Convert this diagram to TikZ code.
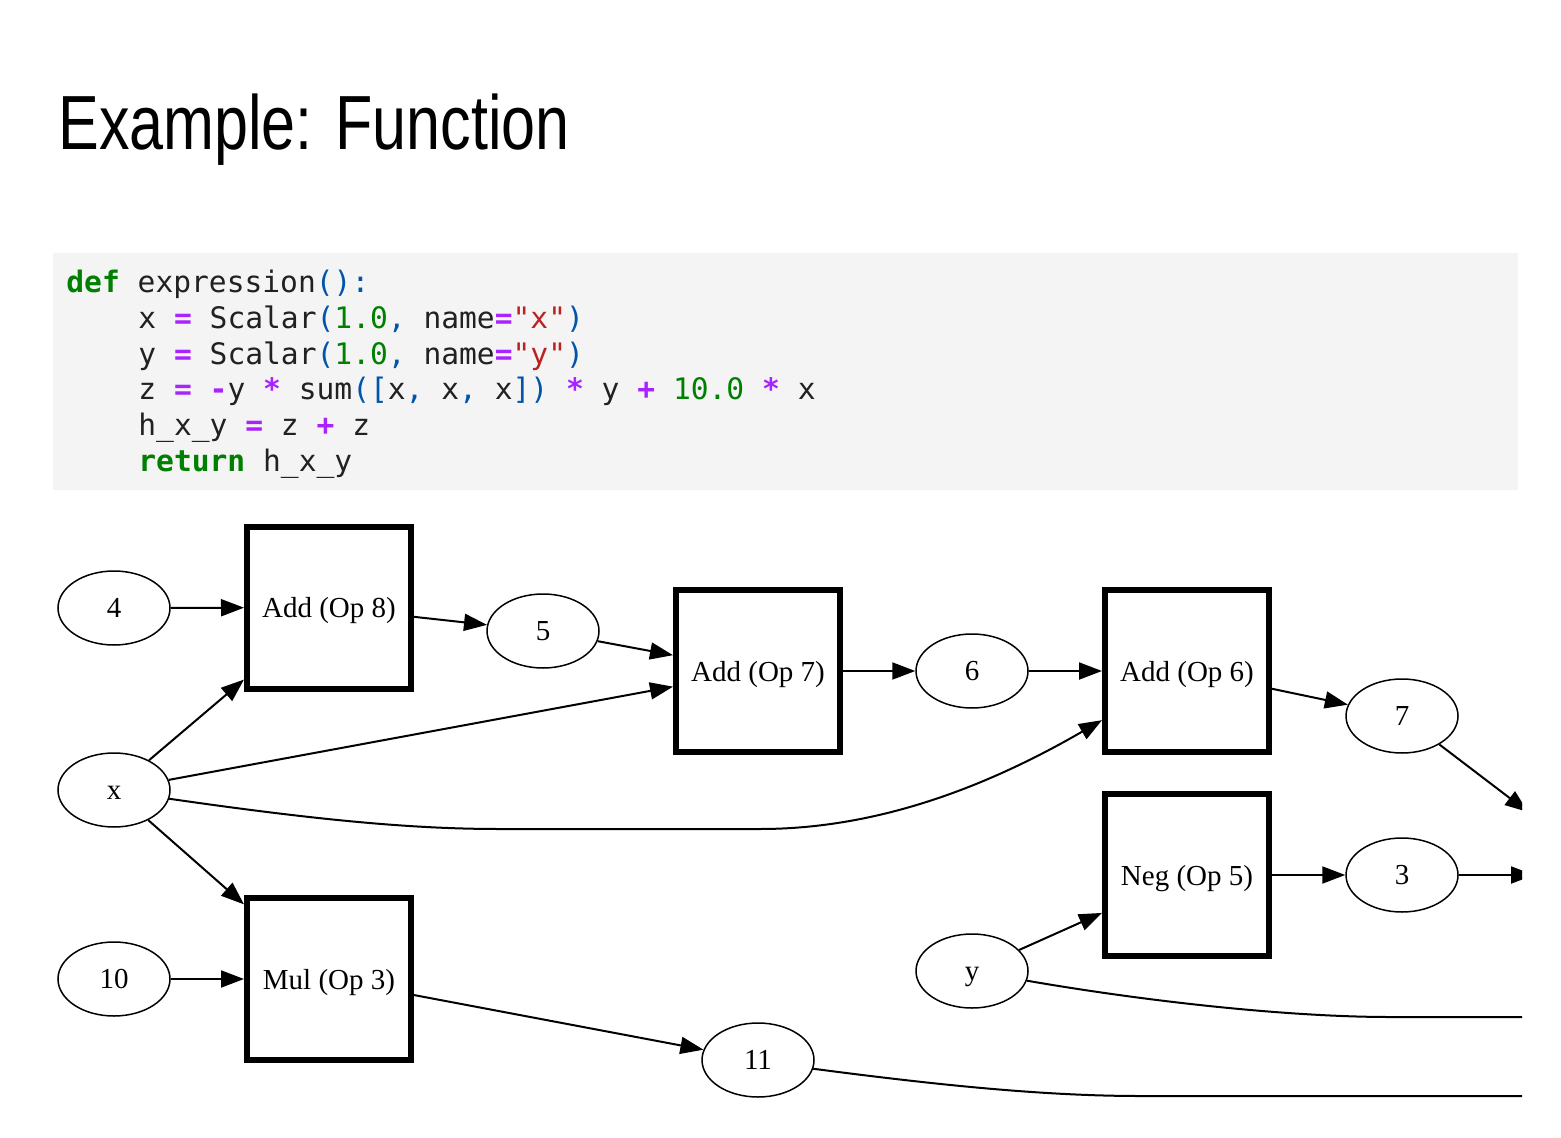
\documentclass[tikz,border=0pt]{standalone}
\usepackage{fontspec}
\usetikzlibrary{arrows.meta,shapes.geometric}
\setmonofont{DejaVu Sans Mono}
\newfontfamily\titlefont[FakeStretch=0.795]{Liberation Sans}
\newfontfamily\graphfont{Liberation Serif}

\definecolor{codebg}{HTML}{F4F4F4}
\definecolor{codetext}{HTML}{212121}
\definecolor{kwgreen}{HTML}{008000}
\definecolor{oppurple}{HTML}{AA22FF}
\definecolor{pnblue}{HTML}{0055AA}
\definecolor{strred}{HTML}{BA2121}

\newcommand\kwd[1]{\textcolor{kwgreen}{\bfseries #1}}
\newcommand\opr[1]{\textcolor{oppurple}{\bfseries #1}}
\newcommand\pnc[1]{\textcolor{pnblue}{#1}}
\newcommand\numl[1]{\textcolor{kwgreen}{#1}}
\newcommand\strl[1]{\textcolor{strred}{#1}}

\tikzset{
  codeline/.style={anchor=base west, inner sep=0pt, text=codetext,
    font=\ttfamily\fontsize{14.8pt}{18pt}\selectfont},
  value/.style={draw, ellipse, line width=0.75pt, minimum width=56pt,
    minimum height=37pt, inner sep=0pt, text height=9.4pt, text depth=0pt,
    font=\graphfont\fontsize{14.5pt}{17pt}\selectfont},
  opbox/.style={draw, rectangle, line width=3pt, minimum width=82pt,
    minimum height=81pt, inner sep=0pt, text height=10pt, text depth=0pt,
    font=\graphfont\fontsize{14.5pt}{17pt}\selectfont},
  edge/.style={line width=1pt, -{Triangle[length=11.5pt,width=8.5pt]}},
  plainedge/.style={line width=1pt},
}

\begin{document}
\begin{tikzpicture}[x=0.5pt,y=-0.5pt]
\useasboundingbox (0,0) rectangle (1561,1138);

% heading
\node[anchor=base west, inner sep=0pt, font=\titlefont\fontsize{38.4pt}{44pt}\selectfont] (title) at (58,150) {Example: Function};

% code listing
\fill[codebg] (53,253) rectangle (1518,490);
\node[codeline] (c1) at (66,293) {\kwd{def} expression\pnc{():}};
\node[codeline] (c2) at (138,329) {x \opr{=} Scalar\pnc{(}\numl{1.0}\pnc{,} name\opr{=}\strl{"x"}\pnc{)}};
\node[codeline] (c3) at (138,365) {y \opr{=} Scalar\pnc{(}\numl{1.0}\pnc{,} name\opr{=}\strl{"y"}\pnc{)}};
\node[codeline] (c4) at (138,400) {z \opr{=} \opr{-}y \opr{*} sum\pnc{([}x\pnc{,} x\pnc{,} x\pnc{])} \opr{*} y \opr{+} \numl{10.0} \opr{*} x};
\node[codeline] (c5) at (138,436) {h\_x\_y \opr{=} z \opr{+} z};
\node[codeline] (c6) at (138,472) {\kwd{return} h\_x\_y};

% computation graph
\begin{scope}
\clip (0,500) rectangle (1522,1138);

\node[value] (v4)  at (114,608)  {4};
\node[value] (vx)  at (114,790)  {x};
\node[value] (v10) at (114,979)  {10};
\node[opbox] (add8) at (329,607.5) {Add (Op 8)};
\node[opbox] (mul3) at (329,979) {Mul (Op 3)};
\node[value] (v5)  at (543,631)  {5};
\node[opbox] (add7) at (758,671) {Add (Op 7)};
\node[value] (v11) at (758,1060) {11};
\node[value] (v6)  at (972,671)  {6};
\node[value] (vy)  at (972,971)  {y};
\node[opbox] (add6) at (1187,671) {Add (Op 6)};
\node[opbox] (neg5) at (1187,875) {Neg (Op 5)};
\node[value] (v7)  at (1402,716) {7};
\node[value] (v3)  at (1402,875) {3};

\coordinate (out7) at (1528,812);
\coordinate (out3) at (1534,875);
\coordinate (outy) at (1560,1017);
\coordinate (out11) at (1560,1096);

\draw[edge] (v4) -- (add8);
\draw[edge] (vx) -- (add8);
\draw[edge] (add8) -- (v5);
\draw[edge] (v5) -- (add7);
\draw[edge] (vx) -- (add7);
\draw[edge] (add7) -- (v6);
\draw[edge] (v6) -- (add6);
\draw[edge] (vx.-9) .. controls (330,822) and (420,829) .. (500,829)
   -- (760,829) .. controls (880,829) and (990,785) .. (add6);
\draw[edge] (add6) -- (v7);
\draw[edge] (v7) -- (out7);
\draw[edge] (vx) -- (mul3);
\draw[edge] (v10) -- (mul3);
\draw[edge] (mul3) -- (v11);
\draw[edge] (vy) -- (neg5);
\draw[edge] (neg5) -- (v3);
\draw[edge] (v3) -- (out3);
\draw[plainedge] (vy.-10) .. controls (1150,1002) and (1290,1017) .. (1390,1017) -- (outy);
\draw[plainedge] (v11.-9) .. controls (930,1084) and (1040,1096) .. (1140,1096) -- (out11);
\end{scope}
\end{tikzpicture}
\end{document}
